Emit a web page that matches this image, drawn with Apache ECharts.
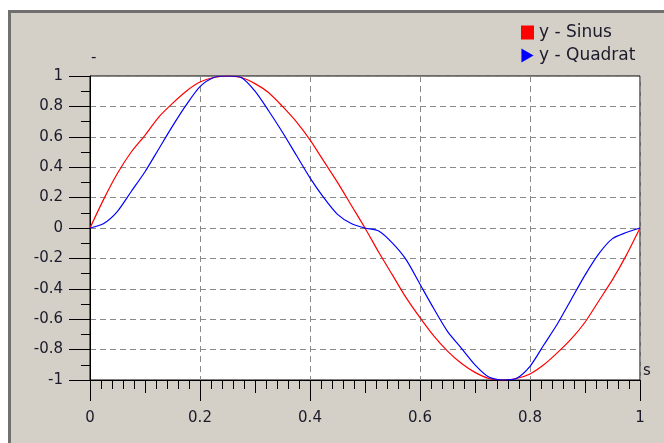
<!DOCTYPE html>
<html>
<head>
<meta charset="utf-8">
<script src="https://cdn.jsdelivr.net/npm/echarts@6/dist/echarts.min.js"></script>
<style>
html,body{margin:0;padding:0;background:#fff;width:664px;height:443px;overflow:hidden;}
#bg{position:absolute;left:8px;top:10px;width:656px;height:433px;background:#D4D0C8;border-left:3px solid #707070;border-top:3px solid #707070;box-sizing:border-box;}
#chart{position:absolute;left:0;top:0;width:664px;height:443px;}
</style>
</head>
<body>
<div id="bg"></div>
<div id="chart"></div>
<script>
const xValues = [0,0.025,0.05,0.075,0.1,0.125,0.15,0.175,0.2,0.225,0.25,0.275,0.3,0.325,0.35,0.375,0.4,0.425,0.45,0.475,0.5,0.525,0.55,0.575,0.6,0.625,0.65,0.675,0.7,0.725,0.75,0.775,0.8,0.825,0.85,0.875,0.9,0.925,0.95,0.975,1];
const sinValues = [0,0.19,0.36,0.5,0.61,0.73,0.82,0.9,0.96,0.99,1,0.99,0.95,0.89,0.8,0.7,0.58,0.44,0.3,0.15,0,-0.16,-0.31,-0.46,-0.59,-0.71,-0.81,-0.89,-0.95,-0.99,-1,-0.99,-0.96,-0.9,-0.82,-0.73,-0.62,-0.48,-0.34,-0.18,0];
const quadValues = [0,0.03,0.11,0.24,0.37,0.52,0.67,0.81,0.93,0.99,1,0.99,0.9,0.77,0.63,0.48,0.33,0.2,0.09,0.03,0,-0.02,-0.1,-0.21,-0.37,-0.53,-0.68,-0.79,-0.9,-0.98,-1,-0.99,-0.91,-0.77,-0.63,-0.47,-0.31,-0.17,-0.07,-0.03,0];
const xTickLabels = ['0','0.2','0.4','0.6','0.8','1'];
const yTickLabels = ['-1','-0.8','-0.6','-0.4','-0.2','0','0.2','0.4','0.6','0.8','1'];
const seriesNames = ['y - Sinus','y - Quadrat'];

const FONT = 'DejaVu Sans';
const chart = echarts.init(document.getElementById('chart'), null, {renderer:'canvas'});
const dashed = {color:'#8a8a8a', type:[6,4], width:1};
chart.setOption({
  animation:false,
  backgroundColor:'transparent',
  textStyle:{fontFamily:FONT},
  grid:{left:90, top:76, width:550, height:304, show:true, backgroundColor:'#fff', borderColor:'#000', borderWidth:1, containLabel:false},
  legend:{
    orient:'vertical', left:516, top:19, itemWidth:13, itemHeight:14, itemGap:6,
    textStyle:{fontFamily:FONT, fontSize:17, color:'#1a1a2a', padding:[0,0,0,0]},
    data:[{name:seriesNames[0], icon:'rect'},{name:seriesNames[1], icon:'path://M0,0L13,7.5L0,15Z'}]
  },
  xAxis:[{
    type:'value', min:0, max:1, interval:0.2,
    axisLine:{show:true, onZero:false, lineStyle:{color:'#000', width:1}},
    axisTick:{show:true, length:21, lineStyle:{color:'#000', width:1}},
    minorTick:{show:true, splitNumber:10, length:9, lineStyle:{color:'#000', width:1}},
    splitLine:{show:true, lineStyle:dashed},
    axisLabel:{margin:31, fontFamily:FONT, fontSize:15, color:'#1a1a2a',
      formatter:function(v){return xTickLabels[Math.round(v/0.2)];}}
  },{
    type:'value', min:0, max:1, interval:0.1, position:'bottom',
    axisLine:{show:false, onZero:false}, axisTick:{show:true, length:13, lineStyle:{color:'#000', width:1}},
    axisLabel:{show:false}, splitLine:{show:false}
  }],
  yAxis:{
    type:'value', min:-1, max:1, interval:0.2,
    axisLine:{show:true, onZero:false, lineStyle:{color:'#000', width:1}},
    axisTick:{show:true, length:21, lineStyle:{color:'#000', width:1}},
    minorTick:{show:true, splitNumber:2, length:9, lineStyle:{color:'#000', width:1}},
    splitLine:{show:true, lineStyle:dashed},
    axisLabel:{margin:27, fontFamily:FONT, fontSize:15, color:'#1a1a2a',
      formatter:function(v){return yTickLabels[Math.round((v+1)/0.2)];}}
  },
  graphic:[
    {type:'text', left:643, top:364, style:{text:'s', fontFamily:FONT, fontSize:15, fill:'#1a1a2a'}},
    {type:'text', left:91, top:51, style:{text:'-', fontFamily:FONT, fontSize:15, fill:'#1a1a2a'}}
  ],
  series:[
    {name:seriesNames[0], type:'line', xAxisIndex:0, showSymbol:false, symbol:'rect', smooth:0.25,
     color:'#ff0000', lineStyle:{color:'#ff0000', width:1.2},
     data:xValues.map((x,i)=>[x,sinValues[i]])},
    {name:seriesNames[1], type:'line', xAxisIndex:0, showSymbol:false, symbol:'triangle', smooth:0.25,
     color:'#0000ff', lineStyle:{color:'#0000ff', width:1.2},
     data:xValues.map((x,i)=>[x,quadValues[i]])}
  ]
});
</script>
</body>
</html>
